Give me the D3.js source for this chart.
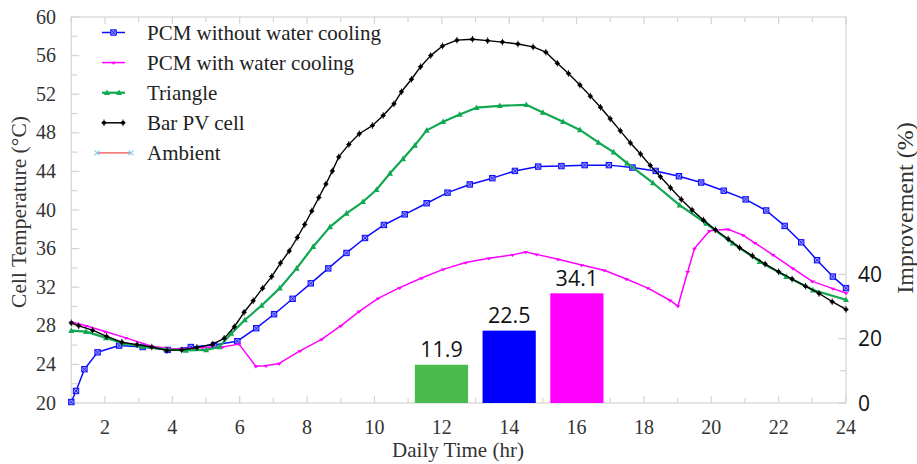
<!DOCTYPE html>
<html>
<head>
<meta charset="utf-8">
<script src="https://cdn.jsdelivr.net/npm/d3@7"></script>
<style>
  html, body { margin: 0; padding: 0; background: #fff; }
  svg { display: block; }
</style>
</head>
<body>
<svg id="chart" width="917" height="464"></svg>
<script>
// Cell temperature over the day (hour, °C)
const barTimes = [1.0,1.22,1.63,2.05,2.5,2.95,3.39,3.84,4.28,4.73,5.2,5.54,5.84,6.13,6.4,6.68,6.95,7.21,7.47,7.71,7.93,8.14,8.35,8.56,8.75,8.94,9.24,9.55,9.94,10.26,10.58,10.8,11.1,11.37,11.67,12.02,12.45,12.91,13.36,13.8,14.26,14.71,15.09,15.43,15.76,16.1,16.41,16.71,17.0,17.3,17.6,17.9,18.19,18.49,18.79,19.11,19.43,19.77,20.12,20.5,20.84,21.22,21.6,22.0,22.4,22.8,23.2,23.59,24.0];
const barTemps = [28.3,28.0,27.55,26.9,26.3,26.05,25.8,25.45,25.5,25.75,26.1,26.7,27.9,29.4,30.6,31.9,33.1,34.5,35.75,37.15,38.5,39.9,41.3,42.7,44.05,45.5,46.8,47.9,48.75,49.8,51.0,52.25,53.55,54.85,56.0,57.0,57.6,57.7,57.55,57.4,57.2,56.9,56.35,55.2,54.15,52.95,51.8,50.65,49.45,48.2,46.95,45.8,44.6,43.45,42.3,41.1,40.0,38.95,37.95,37.0,36.1,35.25,34.4,33.6,32.85,32.1,31.35,30.5,29.7];

const triTimes = [1.0,1.44,2.03,2.53,3.12,3.81,4.4,5.0,5.39,5.75,6.15,6.65,7.19,7.69,8.18,8.68,9.17,9.66,10.06,10.46,10.85,11.2,11.55,12.04,12.53,13.03,13.72,14.51,15.0,15.6,16.1,16.65,17.1,17.5,18.27,19.06,19.85,20.64,21.44,22.23,23.02,24.0];
const triTemps = [27.5,27.4,26.75,26.2,25.85,25.55,25.45,25.5,25.8,27.2,28.6,30.1,31.9,33.95,36.2,38.25,39.65,40.85,42.1,43.8,45.3,46.7,48.25,49.15,49.9,50.6,50.8,50.9,50.1,49.15,48.3,47.0,46.0,44.85,42.8,40.5,38.6,36.55,34.65,33.1,31.7,30.7];

const pcmTimes = [1.0,1.14,1.39,1.78,2.42,3.12,3.86,4.55,5.24,5.93,6.49,7.02,7.57,8.11,8.63,9.17,9.72,10.28,10.9,11.55,12.17,12.83,13.5,14.17,14.86,15.55,16.24,16.96,17.66,18.35,19.04,19.7,20.37,21.02,21.63,22.18,22.67,23.14,23.61,24.0];
const pcmTemps = [20.1,21.25,23.5,25.25,25.95,25.8,25.5,25.8,26.0,26.4,27.75,29.2,30.8,32.4,33.95,35.55,37.1,38.45,39.55,40.7,41.8,42.65,43.3,44.05,44.5,44.55,44.65,44.65,44.4,44.05,43.5,42.85,42.0,41.1,39.95,38.35,36.65,34.8,33.1,31.9];

const pcmwTimes = [1.0,1.44,2.0,2.62,3.41,4.1,4.9,5.49,5.98,6.48,6.78,7.17,7.79,8.43,9.0,9.55,10.11,10.75,11.4,12.04,12.71,13.4,14.1,14.49,14.81,15.45,16.15,16.82,17.48,18.12,18.77,19.01,19.3,19.5,19.95,20.5,20.94,21.29,21.83,22.42,23.0,23.61,24.0];
const pcmwTemps = [28.4,28.0,27.4,26.75,25.85,25.6,25.75,25.8,26.1,23.8,23.85,24.1,25.4,26.6,28.0,29.5,30.85,31.95,32.95,33.85,34.55,35.0,35.35,35.65,35.4,34.9,34.3,33.75,32.85,31.9,30.65,30.05,33.6,36.0,37.85,38.0,37.4,36.6,35.35,33.95,32.6,31.85,31.4];

// Improvement of each design (%)
const improveNames = ["Triangle", "PCM without water cooling", "PCM with water cooling"];
const improveValues = [11.9, 22.5, 34.1];

// Axis ticks
const xTicks = [2,4,6,8,10,12,14,16,18,20,22,24];
const yTicks = [20,24,28,32,36,40,44,48,52,56,60];
const rTicks = [0,20,40];

const legendNames = ["PCM without water cooling", "PCM with water cooling", "Triangle", "Bar PV cell", "Ambient"];

const svg = d3.select("#chart");
const L = 71.3, R = 846, T = 17, B = 403;
const x = d3.scaleLinear().domain([1, 24]).range([L, R]);
const y = d3.scaleLinear().domain([20, 60]).range([B, T]);
const yR = d3.scaleLinear().domain([0, 120]).range([B, T]);

const serif = "'Liberation Serif', 'Times New Roman', serif";
const sans = "'Open Sans', 'Noto Sans', sans-serif";
const frame = "#d4d4d4";

// ---- frame and ticks ----
const ax = svg.append("g");
ax.append("rect").attr("x", L).attr("y", T).attr("width", R - L).attr("height", B - T)
  .attr("fill", "none").attr("stroke", frame).attr("stroke-width", 1.2);

const hours = d3.range(1, 25);
ax.selectAll(".tb").data(hours).join("line")
  .attr("x1", d => x(d)).attr("x2", d => x(d))
  .attr("y1", B).attr("y2", d => B - (d % 2 === 0 ? 7 : 5))
  .attr("stroke", frame).attr("stroke-width", 1.2);
ax.selectAll(".tt").data(hours).join("line")
  .attr("x1", d => x(d)).attr("x2", d => x(d))
  .attr("y1", T).attr("y2", d => T + (d % 2 === 0 ? 7 : 5))
  .attr("stroke", frame).attr("stroke-width", 1.2);

const yMinor = d3.range(20, 61, 2);
ax.selectAll(".tl").data(yMinor).join("line")
  .attr("x1", L).attr("x2", d => L + (d % 4 === 0 ? 8 : 6))
  .attr("y1", d => y(d)).attr("y2", d => y(d))
  .attr("stroke", frame).attr("stroke-width", 1.2);

const rMinor = d3.range(0, 41, 10);
ax.selectAll(".tr").data(rMinor).join("line")
  .attr("x1", R).attr("x2", d => R - (d % 20 === 0 ? 8 : 6))
  .attr("y1", d => yR(d)).attr("y2", d => yR(d))
  .attr("stroke", frame).attr("stroke-width", 1.2);

// tick labels
ax.selectAll(".xl").data(xTicks).join("text")
  .attr("x", d => x(d)).attr("y", 434)
  .attr("text-anchor", "middle").attr("font-family", serif).attr("font-size", 20)
  .attr("fill", "#333").text(d => d);
ax.selectAll(".yl").data(yTicks).join("text")
  .attr("x", 56).attr("y", d => y(d) + 6.5)
  .attr("text-anchor", "end").attr("font-family", serif).attr("font-size", 20)
  .attr("fill", "#333").text(d => d);
ax.selectAll(".rl").data(rTicks).join("text")
  .attr("x", 858).attr("y", d => yR(d) + 7.5)
  .attr("text-anchor", "start").attr("font-family", sans).attr("font-size", 21)
  .attr("fill", "#111").text(d => d);

// axis titles
svg.append("text").attr("x", 458).attr("y", 457).attr("text-anchor", "middle")
  .attr("font-family", serif).attr("font-size", 21).attr("fill", "#333").text("Daily Time (hr)");
svg.append("text").attr("transform", "translate(26,212) rotate(-90)").attr("text-anchor", "middle")
  .attr("font-family", serif).attr("font-size", 21.5).attr("fill", "#333").text("Cell Temperature (°C)");
svg.append("text").attr("transform", "translate(913,208) rotate(-90)").attr("text-anchor", "middle")
  .attr("font-family", serif).attr("font-size", 24).attr("fill", "#333").text("Improvement (%)");

// ---- improvement bars ----
const barColors = ["#4cbb4f", "#0000ff", "#ff00ff"];
const band = d3.scaleBand().domain(improveNames).range([x(11.2), x(16.8)]).paddingInner(0.214).paddingOuter(0);
const bars = svg.append("g");
bars.selectAll("rect").data(improveValues).join("rect")
  .attr("x", (d, i) => band(improveNames[i])).attr("width", band.bandwidth())
  .attr("y", d => yR(d)).attr("height", d => yR(0) - yR(d))
  .attr("fill", (d, i) => barColors[i]);
bars.selectAll("text").data(improveValues).join("text")
  .attr("x", (d, i) => band(improveNames[i]) + band.bandwidth() / 2)
  .attr("y", d => yR(d) - 7.5)
  .attr("text-anchor", "middle").attr("font-family", sans).attr("font-size", 21.5)
  .attr("fill", "#111").text(d => d.toFixed(1));

// ---- temperature lines ----
const line = d3.line().x(d => x(d[0])).y(d => y(d[1]));
const zip = (a, b) => a.map((t, i) => [t, b[i]]);

const series = [
  { key: "pcm", pts: zip(pcmTimes, pcmTemps), color: "#0a0aff", width: 1.5 },
  { key: "pcmw", pts: zip(pcmwTimes, pcmwTemps), color: "#ff00ff", width: 1.5 },
  { key: "tri", pts: zip(triTimes, triTemps), color: "#10a850", width: 2.2 },
  { key: "bar", pts: zip(barTimes, barTemps), color: "#000000", width: 1.4 }
];

const markers = {
  pcm: (g, c) => {
    g.append("rect").attr("x", -2.7).attr("y", -2.7).attr("width", 5.4).attr("height", 5.4)
      .attr("fill", "#9a9aff").attr("stroke", c).attr("stroke-width", 1);
    g.append("path").attr("d", "M-2.3,-2.3L2.3,2.3M-2.3,2.3L2.3,-2.3").attr("stroke", c).attr("stroke-width", 0.8);
  },
  pcmw: (g, c) => {
    g.append("path").attr("d", "M-2.6,-0.8L2.6,-0.8L0,2.2Z").attr("fill", c);
  },
  tri: (g, c) => {
    g.append("path").attr("d", "M0,-3.3L3,2.3L-3,2.3Z").attr("fill", c);
  },
  bar: (g, c) => {
    g.append("circle").attr("r", 2).attr("fill", c);
    g.append("path").attr("d", "M0,-3.3V3.3M-2.6,0H2.6").attr("stroke", c).attr("stroke-width", 0.9);
  }
};

const lines = svg.append("g");
series.forEach(s => {
  lines.append("path").datum(s.pts).attr("d", line)
    .attr("fill", "none").attr("stroke", s.color).attr("stroke-width", s.width)
    .attr("stroke-linejoin", "round");
  lines.append("g").selectAll("g").data(s.pts).join("g")
    .attr("transform", d => `translate(${x(d[0])},${y(d[1])})`)
    .each(function () { markers[s.key](d3.select(this), s.color); });
});

// ---- legend ----
const lg = svg.append("g");
const legendColors = ["#0a0aff", "#ff00ff", "#10a850", "#000000", "#f08080"];
const legendKeys = ["pcm", "pcmw", "tri", "bar", "amb"];
legendNames.forEach((name, i) => {
  const cy = 32.5 + i * 30.1;
  const g = lg.append("g").attr("transform", `translate(0,${cy})`);
  const k = legendKeys[i];
  if (k === "amb") {
    g.append("line").attr("x1", 97).attr("x2", 131).attr("y1", 0).attr("y2", 0)
      .attr("stroke", legendColors[i]).attr("stroke-width", 1.6);
    [97, 131].forEach(px => {
      g.append("path").attr("d", `M${px - 2.5},-2.5L${px + 2.5},2.5M${px - 2.5},2.5L${px + 2.5},-2.5`)
        .attr("stroke", "#7fd0f5").attr("stroke-width", 1.2);
    });
  } else {
    g.append("line").attr("x1", 102).attr("x2", 125).attr("y1", 0).attr("y2", 0)
      .attr("stroke", legendColors[i]).attr("stroke-width", k === "tri" ? 2.2 : 1.5);
    const pos = k === "tri" ? [107, 119] : (k === "bar" ? [104, 123] : [113.5]);
    pos.forEach(px => {
      const m = g.append("g").attr("transform", `translate(${px},0)`);
      markers[k](m, legendColors[i]);
    });
  }
  g.append("text").attr("x", 147).attr("y", 7).attr("font-family", serif).attr("font-size", 21)
    .attr("fill", "#222").text(name);
});
</script>
</body>
</html>
